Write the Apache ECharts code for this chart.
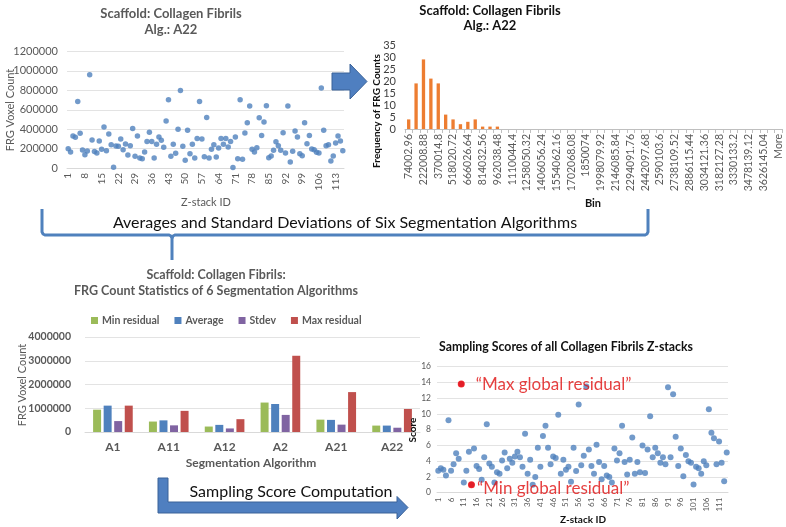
<!DOCTYPE html>
<html><head><meta charset="utf-8">
<script src="https://cdn.jsdelivr.net/npm/echarts@6/dist/echarts.min.js"></script>
<style>html,body{margin:0;padding:0;background:#fff}#c{width:786px;height:527px}</style>
</head><body><div id="c"></div>
<script>
// ---------- DATA ----------
// Top-left: FRG voxel count per Z-stack (algorithm A22)
const a22Ids = Array.from({length:116}, (_, i) => String(i + 1));
const a22Counts = [
 199000,165000,329000,316000,686000,357000,185000,137000,175000,960000,
 288000,171000,154000,278000,192000,422000,178000,350000,240000,7000,
 226000,223000,298000,189000,247000,134000,230000,408000,120000,329000,
 103000,96000,165000,274000,367000,274000,103000,244000,319000,285000,
 213000,484000,703000,120000,244000,151000,398000,799000,223000,79000,
 388000,148000,244000,103000,305000,686000,298000,117000,521000,
 103000,192000,240000,113000,206000,305000,244000,305000,216000,274000,
 5000,319000,96000,703000,89000,360000,466000,638000,192000,165000,
 209000,518000,336000,473000,641000,106000,123000,182000,271000,230000,
 182000,364000,154000,638000,62000,172000,381000,319000,147000,127000,
 466000,250000,336000,196000,189000,161000,154000,823000,388000,230000,
 240000,72000,123000,257000,329000,278000,178000
];

// Top-right: histogram of FRG counts
const binLabels = [
 '74002.96','148005.92','222008.88','296011.84','370014.8','444017.76','518020.72','592023.68',
 '666026.64','740029.6','814032.56','888035.52','962038.48','1036041.44','1110044.4','1184047.36',
 '1258050.32','1332053.28','1406056.24','1480059.2','1554062.16','1628065.12','1702068.08','1776071.04',
 '1850074','1924076.96','1998079.92','2072082.88','2146085.84','2220088.8','2294091.76','2368094.72',
 '2442097.68','2516100.64','2590103.6','2664106.56','2738109.52','2812112.48','2886115.44','2960118.4',
 '3034121.36','3108124.32','3182127.28','3256130.24','3330133.2','3404136.16','3478139.12','3552142.08',
 '3626145.04','3700148','More'
];
const binFreq = [4,19,29,21,19,6,4,2,3,4,1,1,1,
 0,0,0,0,0,0,0,0,0,0,0,0,0,0,0,0,0,0,0,0,0,0,0,0,0,0,0,0,0,0,0,0,0,0,0,0,0,0];

// Bottom-left: statistics of 6 segmentation algorithms
const algorithms = ['A1','A11','A12','A2','A21','A22'];
const minResidual = [940000,440000,230000,1240000,520000,270000];
const averageVals = [1110000,490000,300000,1180000,510000,270000];
const stdevVals   = [460000,280000,150000,720000,310000,180000];
const maxResidual = [1110000,890000,540000,3210000,1680000,970000];

// Bottom-right: sampling scores
const scoreIds = Array.from({length:114}, (_, i) => String(i + 1));
const scores = [
 2.8,3.1,2.9,2.2,9.2,2.8,3.6,5.0,4.3,13.8,
 1.3,2.8,5.2,1.0,
 5.6,3.4,3.0,1.65,4.5,8.7,3.7,3.3,1.3,2.6,2.4,4.1,5.1,3.1,4.3,3.8,4.6,5.2,4.5,3.3,7.5,2.4,4.2,1.0,2.0,5.7,
 3.3,7.2,8.5,5.7,3.6,4.6,4.4,9.9,2.4,4.2,2.9,3.3,1.4,5.7,2.75,11.2,3.5,4.7,13.5,5.5,3.4,2.4,6.1,3.9,1.7,
 3.4,2.2,2.0,1.3,5.6,4.1,5.0,8.5,3.9,2.3,4.2,7.0,2.4,3.9,2.6,6.0,2.5,5.5,9.7,4.5,5.7,5.0,3.8,4.5,3.6,
 13.4,4.5,12.5,7.1,3.4,5.6,2.1,4.8,4.0,3.8,1.05,3.3,3.1,2.4,4.0,3.5,10.6,7.6,6.9,3.6,6.5,3.8,1.45,5.1
];
const highlightIds = ['10','14'];
const highlightScores = [13.8, 1.0];
const highlightLabels = ['\u201CMax global residual\u201D','\u201CMin global residual\u201D'];

// ---------- CHART ----------
const F = 'Lato';
const gray = '#595959';
const blue = '#4F81BD';
const plain = v => String(v);
const chart = echarts.init(document.getElementById('c'));

function txt(text, x, y, size, opts) {
  opts = opts || {};
  return {
    type: 'text', x: x, y: y, rotation: opts.rot ? Math.PI / 2 : 0, z: 100,
    style: {
      text: text, fill: opts.color || '#000', align: 'center', verticalAlign: 'middle',
      font: (opts.bold ? 'bold ' : '') + size + 'px ' + F
    }
  };
}

const option = {
  animation: false,
  textStyle: { fontFamily: F },
  grid: [
    { left: 67, top: 51.5, width: 277, height: 116.5 },
    { left: 405, top: 45, width: 377, height: 84 },
    { left: 85, top: 337, width: 335, height: 95 },
    { left: 437, top: 366.7, width: 291, height: 126 }
  ],
  legend: {
    data: ['Min residual','Average','Stdev','Max residual'],
    left: 86, top: 310, icon: 'rect', itemWidth: 7, itemHeight: 7, itemGap: 15,
    textStyle: { fontFamily: F, fontSize: 10.5, fontWeight: 'bold', color: gray, padding: [0, 0, 0, -1] }
  },
  xAxis: [
    { gridIndex: 0, type: 'category', data: a22Ids, boundaryGap: true,
      axisLine: { lineStyle: { color: '#D9D9D9' } }, axisTick: { show: false },
      axisLabel: { interval: 6, rotate: 90, fontSize: 10, color: gray, margin: 5 } },
    { gridIndex: 1, type: 'category', data: binLabels, boundaryGap: true,
      axisLine: { lineStyle: { color: '#BFBFBF' } },
      axisTick: { show: true, interval: 0, length: 4, lineStyle: { color: '#BFBFBF' } },
      axisLabel: { interval: 1, rotate: 90, fontSize: 10.5, color: gray, margin: 5 } },
    { gridIndex: 2, type: 'category', data: algorithms,
      axisLine: { lineStyle: { color: '#D9D9D9' } }, axisTick: { show: false },
      axisLabel: { fontSize: 12, fontWeight: 'bold', color: gray, margin: 9 } },
    { gridIndex: 3, type: 'category', data: scoreIds, boundaryGap: true,
      axisLine: { lineStyle: { color: '#D9D9D9' } }, axisTick: { show: false },
      axisLabel: { interval: 4, rotate: 90, fontSize: 8, color: gray, margin: 5 } }
  ],
  yAxis: [
    { gridIndex: 0, type: 'value', min: 0, max: 1200000, interval: 200000,
      axisLine: { show: false }, axisTick: { show: false },
      splitLine: { lineStyle: { color: '#E3E3E3' } },
      axisLabel: { fontSize: 11, color: gray, margin: 9, formatter: plain } },
    { gridIndex: 1, type: 'value', min: 0, max: 35, interval: 5,
      axisLine: { show: false }, axisTick: { show: false }, splitLine: { show: false },
      axisLabel: { fontSize: 11, color: '#404040', margin: 9, formatter: plain } },
    { gridIndex: 2, type: 'value', min: 0, max: 4000000, interval: 1000000,
      axisLine: { show: false }, axisTick: { show: false },
      splitLine: { lineStyle: { color: '#E3E3E3' } },
      axisLabel: { fontSize: 10.5, fontWeight: 'bold', color: gray, margin: 14, formatter: plain } },
    { gridIndex: 3, type: 'value', min: 0, max: 16, interval: 2,
      axisLine: { show: false }, axisTick: { show: false },
      splitLine: { lineStyle: { color: '#E3E3E3' } },
      axisLabel: { fontSize: 8.5, color: gray, margin: 6, formatter: plain } }
  ],
  series: [
    { type: 'scatter', xAxisIndex: 0, yAxisIndex: 0, data: a22Counts,
      symbolSize: 5.5, itemStyle: { color: blue } },
    { type: 'bar', xAxisIndex: 1, yAxisIndex: 1, data: binFreq, barCategoryGap: '55%',
      itemStyle: { color: '#ED7D31' } },
    { name: 'Min residual', type: 'bar', xAxisIndex: 2, yAxisIndex: 2, data: minResidual,
      barGap: '32%', barCategoryGap: '29%', itemStyle: { color: '#9BBB59' } },
    { name: 'Average', type: 'bar', xAxisIndex: 2, yAxisIndex: 2, data: averageVals,
      barGap: '32%', barCategoryGap: '29%', itemStyle: { color: '#4F81BD' } },
    { name: 'Stdev', type: 'bar', xAxisIndex: 2, yAxisIndex: 2, data: stdevVals,
      barGap: '32%', barCategoryGap: '29%', itemStyle: { color: '#8064A2' } },
    { name: 'Max residual', type: 'bar', xAxisIndex: 2, yAxisIndex: 2, data: maxResidual,
      barGap: '32%', barCategoryGap: '29%', itemStyle: { color: '#C0504D' } },
    { type: 'scatter', xAxisIndex: 3, yAxisIndex: 3, data: scores,
      symbolSize: 6, itemStyle: { color: blue } },
    { type: 'scatter', xAxisIndex: 3, yAxisIndex: 3, z: 5,
      data: highlightIds.map((id, i) => ({
        value: [id, highlightScores[i]],
        label: { show: true, position: 'right', formatter: highlightLabels[i],
          distance: i === 0 ? 11 : 2, offset: i === 0 ? [0, 0] : [0, 4],
          color: '#E01010', fontSize: 17, fontFamily: F }
      })),
      symbolSize: 7, itemStyle: { color: '#FF0000' } }
  ],
  graphic: [
    txt('Scaffold: Collagen Fibrils', 171, 14, 13, { bold: true, color: gray }),
    txt('Alg.: A22', 171, 30, 13, { bold: true, color: gray }),
    txt('Scaffold: Collagen Fibrils', 490, 11, 13, { bold: true, color: '#111' }),
    txt('Alg.: A22', 490, 26, 13, { bold: true, color: '#111' }),
    txt('FRG Voxel Count', 10, 110, 11, { rot: true, color: gray }),
    txt('Z-stack ID', 206, 202, 11, { color: gray }),
    txt('Frequency of FRG Counts', 377, 111, 10, { rot: true, bold: true, color: '#111' }),
    txt('Bin', 593, 203, 11, { bold: true, color: '#111' }),
    { type: 'polygon', z: 100,
      shape: { points: [[332,73],[350,73],[350,64],[367,81.5],[350,99],[350,90],[332,90]] },
      style: { fill: '#4F7FC0', stroke: '#3A6298', lineWidth: 1 } },
    { type: 'polyline', z: 100,
      shape: { points: [[42,209],[42,232],[43,234],[45,235],[169,235],[171,236],[172,238],[172,260]] },
      style: { fill: null, stroke: '#4F81BD', lineWidth: 3 } },
    { type: 'polyline', z: 100,
      shape: { points: [[172,238],[173,236],[175,235],[645,235],[647,234],[648,232],[648,209]] },
      style: { fill: null, stroke: '#4F81BD', lineWidth: 3 } },
    txt('Averages and Standard Deviations of Six Segmentation Algorithms', 345, 223, 16, { color: '#111' }),
    txt('Scaffold: Collagen Fibrils:', 216, 275, 12.5, { bold: true, color: gray }),
    txt('FRG Count Statistics of 6 Segmentation Algorithms', 216, 291, 12.5, { bold: true, color: gray }),
    txt('FRG Voxel Count', 22, 385, 11, { rot: true, color: gray }),
    txt('Segmentation Algorithm', 251, 463, 12, { bold: true, color: gray }),
    { type: 'polygon', z: 100,
      shape: { points: [[158,478],[168,478],[168,502],[397,502],[397,496.5],[408,507.5],[397,519],[397,513],[158,513]] },
      style: { fill: '#4F7FC0', stroke: '#3A6298', lineWidth: 1 } },
    txt('Sampling Score Computation', 291, 492, 16, { color: '#111' }),
    txt('Sampling Scores of all Collagen Fibrils Z-stacks', 566, 347, 12.3, { bold: true, color: '#111' }),
    txt('Score', 413, 430, 10, { rot: true, bold: true, color: '#111' }),
    txt('Z-stack ID', 583, 520, 10, { bold: true, color: '#111' })
  ]
};
chart.setOption(option);
</script>
</body></html>
